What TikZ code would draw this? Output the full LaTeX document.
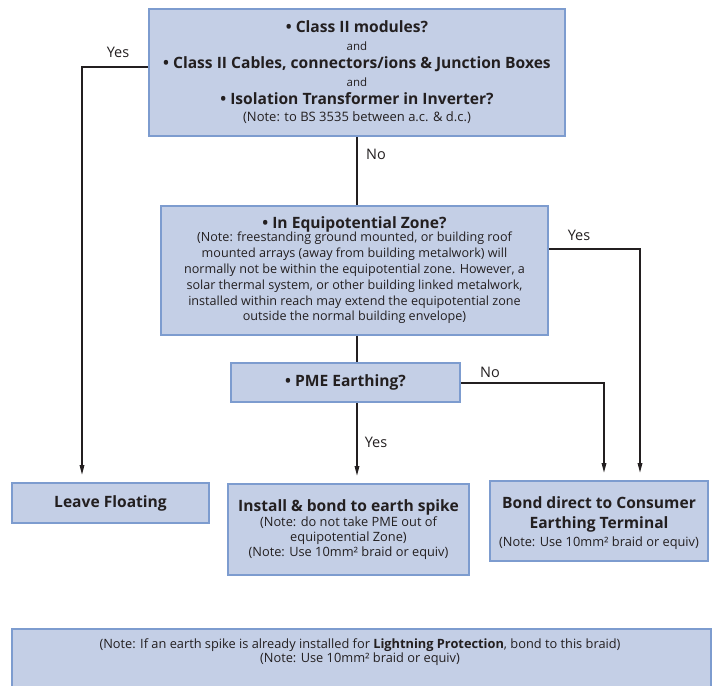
\documentclass[tikz,border=0pt]{standalone}
\usepackage{fontspec}
\setmainfont{Open Sans}
\usetikzlibrary{arrows.meta}
\definecolor{boxfill}{RGB}{196,207,230}
\definecolor{boxline}{RGB}{125,156,207}
\definecolor{txt}{RGB}{35,31,32}
\newcommand{\bt}[1]{{\fontsize{15.6}{18}\selectfont\bfseries #1}}
\tikzset{
  flowbox/.style={draw=boxline, fill=boxfill, line width=2pt, align=center, inner sep=0pt, text=txt},
  conn/.style={draw=txt, line width=1.6pt},
  arr/.style={conn, -{Triangle[length=10pt,width=4.5pt]}, shorten >=7pt},
  lbl/.style={font=\fontsize{14.5}{16}\selectfont, text=txt, inner sep=0pt},
}
\begin{document}
\begin{tikzpicture}[x=1pt,y=-1pt]
\useasboundingbox (0,0) rectangle (713,686);
\begin{scope}
\clip (0,0) rectangle (713,686);
\node[flowbox, minimum width=699pt, minimum height=80pt] (bot) at (361.5,669) {};
\end{scope}
\node[text=txt, align=center, font=\fontsize{12.8}{14.5}\selectfont] (bottxt) at (360,652)
  {(Note: If an earth spike is already installed for \textbf{Lightning Protection}, bond to this braid)\\(Note: Use 10mm² braid or equiv)};

\node[flowbox, minimum width=416pt, minimum height=127pt, font=\fontsize{11.5}{18}\selectfont] (b1) at (357,72.5)
  {\bt{• Class II modules?}\\
   and\\
   \bt{• Class II Cables, connectors/ions \& Junction Boxes}\\
   and\\
   \bt{• Isolation Transformer in Inverter?}\\[-1pt]
   {\fontsize{13}{15}\selectfont (Note: to BS 3535 between a.c. \& d.c.)}};

\node[flowbox, minimum width=387pt, minimum height=129pt, font=\fontsize{12.6}{15.8}\selectfont] (b2) at (354.5,270)
  {\bt{• In Equipotential Zone?}\\[-2pt]
   (Note: freestanding ground mounted, or building roof\\
   mounted arrays (away from building metalwork) will\\
   normally not be within the equipotential zone. However, a\\
   solar thermal system, or other building linked metalwork,\\
   installed within reach may extend the equipotential zone\\
   outside the normal building envelope)};

\node[flowbox, minimum width=229pt, minimum height=39pt] (b3) at (345.5,382.5)
  {\bt{• PME Earthing?}};

\node[flowbox, minimum width=197pt, minimum height=40pt] (leave) at (110.5,503)
  {\bt{Leave Floating}};

\node[flowbox, minimum width=241pt, minimum height=91pt, font=\fontsize{12.8}{15.2}\selectfont] (inst) at (348.5,529.5)
  {\bt{Install \& bond to earth spike}\\[0pt]
   (Note: do not take PME out of\\
   equipotential Zone)\\
   (Note: Use 10mm² braid or equiv)};

\node[flowbox, minimum width=218pt, minimum height=80pt] (bond) at (599,521) {};
\node[text=txt, align=center, inner sep=0pt, font=\fontsize{12.8}{19.5}\selectfont] (bondtxt) at (599,523.5)
  {\bt{Bond direct to Consumer}\\
   \bt{Earthing Terminal}\\[-1pt]
   (Note: Use 10mm² braid or equiv)};

\coordinate (c1) at (82,67);
\coordinate (c2) at (640,249);
\coordinate (c3) at (604,383);
\coordinate (c4) at (357,0);

\draw[arr] (b1.west |- c1) -- (c1) -- (c1 |- leave.north);
\draw[conn] (b1.south -| c4) -- (b2.north -| c4);
\draw[conn] (b2.south -| c4) -- (b3.north -| c4);
\draw[arr] (b3.south -| c4) -- (inst.north -| c4);
\draw[arr] (b2.east |- c2) -- (c2) -- (c2 |- bond.north);
\draw[arr] (b3.east |- c3) -- (c3) -- (c3 |- bond.north);

\node[lbl] (l1) at (118,52) {Yes};
\node[lbl] (l2) at (376,154) {No};
\node[lbl] (l3) at (579,235) {Yes};
\node[lbl] (l4) at (490,372) {No};
\node[lbl] (l5) at (376,442) {Yes};
\end{tikzpicture}
\end{document}
